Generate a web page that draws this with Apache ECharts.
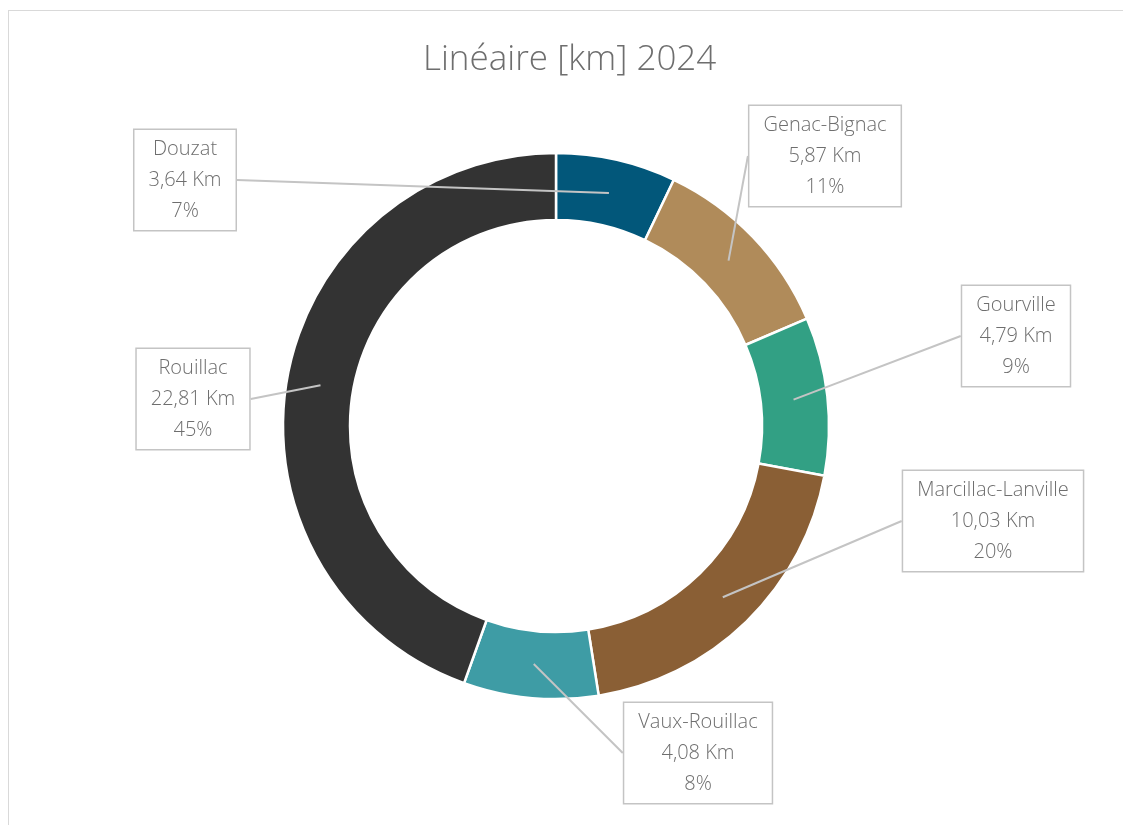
<!DOCTYPE html>
<html>
<head>
<meta charset="utf-8">
<script src="https://cdn.jsdelivr.net/npm/echarts@6/dist/echarts.min.js"></script>
<style>
  html, body { margin: 0; padding: 0; background: #fff; }
  .frame { position: absolute; left: 8px; top: 10px; width: 1140px; height: 840px; border: 1.5px solid #d9d9d9; }
  #main { position: absolute; left: 0; top: 0; width: 1123px; height: 825px; }
</style>
</head>
<body>
<div class="frame"></div>
<div id="main"></div>
<script>
// communes et linéaire en km
const communes = ['Douzat', 'Genac-Bignac', 'Gourville', 'Marcillac-Lanville', 'Vaux-Rouillac', 'Rouillac']
const lineaire = [3.64, 5.87, 4.79, 10.03, 4.08, 22.81]
const couleurs = ['#02577A', '#B08B5A', '#32A084', '#8A5F35', '#3E9CA5', '#333333']

// position des étiquettes (centre du texte), même ordre que communes
const labelPos = [[185, 180], [825, 156], [1016, 336], [993, 521], [698, 753], [193, 399]]

const chart = echarts.init(document.getElementById('main'))

const pieData = communes.map((name, i) => ({
  name: name,
  value: lineaire[i],
  itemStyle: { color: couleurs[i] }
}))

const option = {
  animation: false,
  title: {
    text: 'Linéaire [km] 2024',
    left: 423,
    top: 43,
    padding: 0,
    textStyle: {
      fontFamily: 'Open Sans',
      fontWeight: 300,
      fontSize: 35,
      color: '#6e6e6e'
    }
  },
  series: [
    {
      type: 'pie',
      center: [556, 426],
      radius: [206, 273],
      startAngle: 90,
      clockwise: true,
      avoidLabelOverlap: false,
      silent: true,
      itemStyle: { borderColor: '#fff', borderWidth: 2.5 },
      label: { show: false },
      labelLine: { show: false },
      data: pieData
    },
    {
      // série transparente qui porte les étiquettes
      type: 'pie',
      center: [556, 426],
      radius: [0, 239],
      startAngle: 90,
      clockwise: true,
      avoidLabelOverlap: false,
      silent: true,
      z: 5,
      itemStyle: { color: 'transparent', borderWidth: 0 },
      label: {
        show: true,
        position: 'outside',
        fontFamily: 'Open Sans',
        fontWeight: 300,
        fontSize: 20,
        lineHeight: 31,
        color: '#6e6e6e',
        align: 'center',
        backgroundColor: '#fff',
        borderColor: '#c4c4c4',
        borderWidth: 1.5,
        padding: [7, 14, 0, 14],
        formatter: p => p.name + '\n' + p.value.toFixed(2).replace('.', ',') + ' Km\n' + Math.round(p.percent) + '%'
      },
      labelLine: {
        show: true,
        length: 0,
        length2: 0,
        lineStyle: { color: '#c4c4c4', width: 2 }
      },
      labelLayout: params => {
        const pos = labelPos[params.dataIndex]
        return {
          x: pos[0],
          y: pos[1],
          align: 'center',
          verticalAlign: 'middle'
        }
      },
      data: communes.map((name, i) => ({ name: name, value: lineaire[i] }))
    }
  ]
}

chart.setOption(option)
</script>
</body>
</html>
